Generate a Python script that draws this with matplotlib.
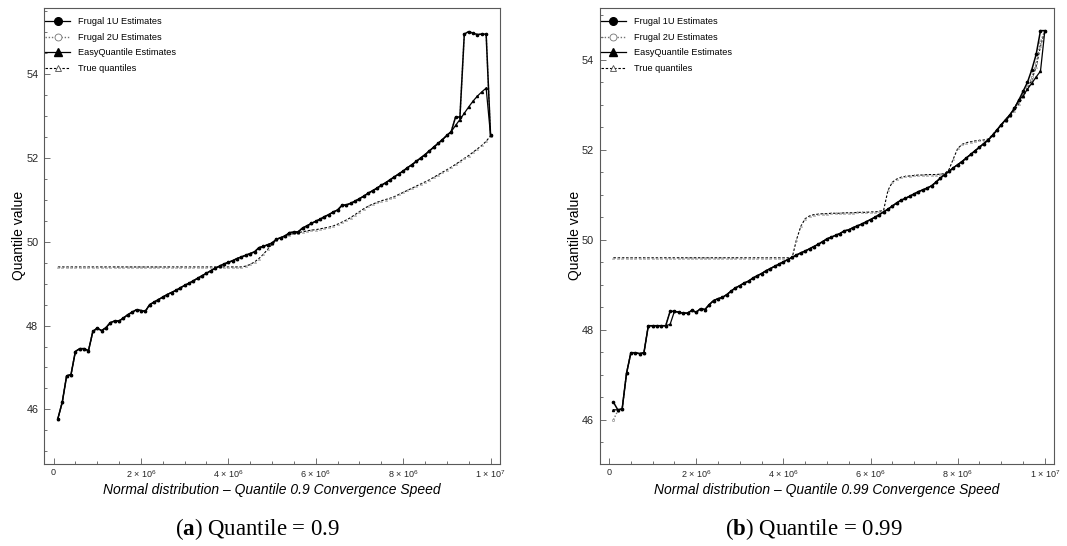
import numpy as np
import matplotlib
matplotlib.use("Agg")
import matplotlib.pyplot as plt
from matplotlib.lines import Line2D
from matplotlib.ticker import MultipleLocator, FixedLocator

plt.rcParams['font.family'] = ['Liberation Sans', 'DejaVu Sans']
plt.rcParams['mathtext.fontset'] = 'custom'
plt.rcParams['mathtext.rm'] = 'Liberation Sans'
plt.rcParams['mathtext.it'] = 'Liberation Sans:italic'
plt.rcParams['mathtext.bf'] = 'Liberation Serif:bold'

# number of items seen (one estimate every 1e5 items)
steps = np.arange(1, 101) * 1e5

# ---- panel (a): quantile 0.9 ----
f1u_a = [45.78, 46.17, 46.80, 46.83, 47.38, 47.45, 47.45, 47.40, 47.86, 47.94,
         47.88, 47.95, 48.07, 48.11, 48.11, 48.18, 48.26, 48.32, 48.38, 48.36,
         48.34, 48.50, 48.56, 48.62, 48.68, 48.74, 48.79, 48.84, 48.90, 48.96,
         49.01, 49.07, 49.13, 49.19, 49.25, 49.31, 49.37, 49.42, 49.47, 49.51,
         49.55, 49.60, 49.64, 49.68, 49.72, 49.76, 49.86, 49.89, 49.93, 49.97,
         50.06, 50.10, 50.14, 50.22, 50.23, 50.24, 50.33, 50.38, 50.44, 50.49,
         50.54, 50.60, 50.65, 50.71, 50.76, 50.87, 50.88, 50.92, 50.97, 51.03,
         51.09, 51.16, 51.22, 51.28, 51.35, 51.41, 51.48, 51.55, 51.62, 51.69,
         51.77, 51.84, 51.92, 52.00, 52.08, 52.17, 52.26, 52.35, 52.44, 52.54,
         52.63, 52.98, 52.98, 54.96, 55.02, 54.98, 54.95, 54.96, 54.96, 52.55]
f2u_a = list(f1u_a)
easy_a = f1u_a[:91] + [52.78, 52.92, 53.07, 53.22, 53.36, 53.48, 53.58, 53.67, 52.55]
true_a = [49.40, 49.40, 49.40, 49.40, 49.40, 49.40, 49.40, 49.40, 49.40, 49.40,
          49.40, 49.40, 49.40, 49.40, 49.40, 49.40, 49.40, 49.40, 49.40, 49.40,
          49.40, 49.40, 49.40, 49.40, 49.40, 49.40, 49.40, 49.40, 49.40, 49.40,
          49.40, 49.40, 49.40, 49.40, 49.40, 49.40, 49.40, 49.40, 49.40, 49.40,
          49.40, 49.40, 49.40, 49.42, 49.46, 49.52, 49.60, 49.70, 49.82, 49.94,
          50.04, 50.10, 50.14, 50.17, 50.20, 50.22, 50.24, 50.26, 50.28, 50.29,
          50.31, 50.33, 50.35, 50.38, 50.42, 50.47, 50.52, 50.58, 50.65, 50.72,
          50.79, 50.85, 50.90, 50.94, 50.98, 51.01, 51.04, 51.08, 51.13, 51.18,
          51.23, 51.28, 51.33, 51.38, 51.43, 51.48, 51.54, 51.60, 51.66, 51.72,
          51.78, 51.85, 51.92, 51.99, 52.06, 52.14, 52.22, 52.30, 52.40, 52.53]

# ---- panel (b): quantile 0.99 ----
f1u_b = [46.39, 46.22, 46.24, 47.03, 47.49, 47.49, 47.47, 47.49, 48.09, 48.09,
         48.09, 48.09, 48.09, 48.41, 48.41, 48.39, 48.37, 48.37, 48.43, 48.39,
         48.47, 48.45, 48.56, 48.65, 48.69, 48.72, 48.78, 48.86, 48.93, 48.98,
         49.04, 49.08, 49.15, 49.20, 49.25, 49.31, 49.36, 49.41, 49.46, 49.51,
         49.56, 49.61, 49.66, 49.71, 49.75, 49.80, 49.85, 49.90, 49.96, 50.02,
         50.06, 50.10, 50.14, 50.20, 50.22, 50.27, 50.31, 50.35, 50.40, 50.45,
         50.50, 50.56, 50.62, 50.68, 50.75, 50.82, 50.88, 50.92, 50.97, 51.02,
         51.07, 51.11, 51.15, 51.20, 51.28, 51.37, 51.45, 51.52, 51.60, 51.67,
         51.74, 51.82, 51.90, 51.98, 52.06, 52.14, 52.22, 52.32, 52.44, 52.56,
         52.67, 52.78, 52.92, 53.10, 53.30, 53.50, 53.78, 54.12, 54.65, 54.65]
easy_b = ([46.22, 46.22, 46.24] + f1u_b[3:13] + [48.12] + f1u_b[14:94]
          + [53.20, 53.35, 53.48, 53.62, 53.75, 54.65])
f2u_b = ([46.00, 46.20] + f1u_b[2:94]
         + [53.25, 53.40, 53.62, 53.92, 54.40, 54.65])
true_b = [49.60, 49.60, 49.60, 49.60, 49.60, 49.60, 49.60, 49.60, 49.60, 49.60,
          49.60, 49.60, 49.60, 49.60, 49.60, 49.60, 49.60, 49.60, 49.60, 49.60,
          49.60, 49.60, 49.60, 49.60, 49.60, 49.60, 49.60, 49.60, 49.60, 49.60,
          49.60, 49.60, 49.60, 49.60, 49.60, 49.60, 49.60, 49.60, 49.60, 49.60,
          49.60, 49.60, 50.00, 50.30, 50.47, 50.53, 50.56, 50.57, 50.58, 50.58,
          50.59, 50.59, 50.59, 50.60, 50.60, 50.60, 50.61, 50.61, 50.61, 50.62,
          50.62, 50.63, 50.66, 51.10, 51.28, 51.35, 51.39, 51.41, 51.42, 51.43,
          51.44, 51.44, 51.45, 51.45, 51.45, 51.46, 51.47, 51.56, 51.80, 52.03,
          52.12, 52.16, 52.18, 52.20, 52.21, 52.22, 52.24, 52.34, 52.45, 52.55,
          52.65, 52.75, 52.87, 53.02, 53.18, 53.35, 53.55, 53.85, 54.30, 54.65]

xticks = [0, 2e6, 4e6, 6e6, 8e6, 1e7]
xtick_labels = ['0', '2 \u00d7 10$^{6}$', '4 \u00d7 10$^{6}$', '6 \u00d7 10$^{6}$',
                '8 \u00d7 10$^{6}$', '1 \u00d7 10$^{7}$']
yticks = [46, 48, 50, 52, 54]
labels = ['Frugal 1U Estimates', 'Frugal 2U Estimates',
          'EasyQuantile Estimates', 'True quantiles']

W, H = 1067, 546
fig = plt.figure(figsize=(W / 100, H / 100), dpi=100)


def draw(ax, f1u, f2u, easy, true, ylim):
    ax.plot(steps, true, color='black', ls=(0, (2.2, 1.6)), lw=0.8,
            marker='^', ms=1.4, mfc='white', mec='0.35', mew=0.3)
    ax.plot(steps, f2u, color='0.45', ls=(0, (1, 1.3)), lw=1.0,
            marker='o', ms=1.6, mfc='white', mec='0.45', mew=0.4)
    ax.plot(steps, easy, color='black', lw=0.9, marker='^', ms=1.5)
    ax.plot(steps, f1u, color='black', lw=1.1, marker='o', ms=1.6)
    ax.set_xlim(-0.22e6, 10.21e6)
    ax.set_ylim(*ylim)
    ax.xaxis.set_major_locator(FixedLocator(xticks))
    ax.set_xticklabels(xtick_labels)
    ax.xaxis.set_minor_locator(MultipleLocator(5e5))
    ax.yaxis.set_major_locator(FixedLocator(yticks))
    ax.yaxis.set_minor_locator(MultipleLocator(0.5))
    ax.tick_params(which='both', direction='in', top=False, right=False,
                   colors='0.35', labelcolor='0.15', width=0.6)
    ax.tick_params(axis='x', labelsize=6.5, pad=3)
    ax.tick_params(axis='y', labelsize=7.8, pad=4)
    ax.tick_params(which='major', length=4)
    ax.tick_params(which='minor', length=2.2)
    for s in ax.spines.values():
        s.set_color('0.35')
        s.set_linewidth(0.8)

    handles = [
        Line2D([], [], color='black', lw=0.9, marker='o', ms=5.5),
        Line2D([], [], color='0.45', ls=(0, (1, 1.3)), lw=1.0, marker='o',
               ms=5, mfc='white', mec='0.45', mew=0.6),
        Line2D([], [], color='black', lw=0.9, marker='^', ms=5.5),
        Line2D([], [], color='black', ls=(0, (2.2, 1.6)), lw=0.8, marker='^',
               ms=5, mfc='white', mec='0.3', mew=0.6),
    ]
    ax.legend(handles, labels, loc='upper left', bbox_to_anchor=(0.003, 0.979),
              frameon=False, fontsize=6.6, handlelength=2.7, handletextpad=0.9,
              labelspacing=0.72, borderpad=0, borderaxespad=0)


top, bot = 7.7, 463.8
ax1 = fig.add_axes([43.9 / W, 1 - bot / H, (499.7 - 43.9) / W, (bot - top) / H])
ax2 = fig.add_axes([599.5 / W, 1 - bot / H, (1054 - 599.5) / W, (bot - top) / H])
draw(ax1, f1u_a, f2u_a, easy_a, true_a, (44.70, 55.59))
draw(ax2, f1u_b, f2u_b, easy_b, true_b, (45.02, 55.16))

fig.text(18.6 / W, 1 - 235.7 / H, 'Quantile value', rotation=90,
         ha='center', va='center', fontsize=10)
fig.text(574.5 / W, 1 - 235.7 / H, 'Quantile value', rotation=90,
         ha='center', va='center', fontsize=10)
fig.text(271.8 / W, 1 - 490 / H,
         'Normal distribution \u2013 Quantile 0.9 Convergence Speed',
         ha='center', va='center', fontsize=10, style='italic')
fig.text(826.7 / W, 1 - 490 / H,
         'Normal distribution \u2013 Quantile 0.99 Convergence Speed',
         ha='center', va='center', fontsize=10, style='italic')

serif = ['Liberation Serif', 'DejaVu Serif']
fig.text(258 / W, 1 - 529 / H, r'($\mathbf{a}$) Quantile = 0.9', ha='center',
         va='center', fontsize=16.5, family=serif)
fig.text(814 / W, 1 - 529 / H, r'($\mathbf{b}$) Quantile = 0.99', ha='center',
         va='center', fontsize=16.5, family=serif)

fig.savefig('out.png', dpi=100)
